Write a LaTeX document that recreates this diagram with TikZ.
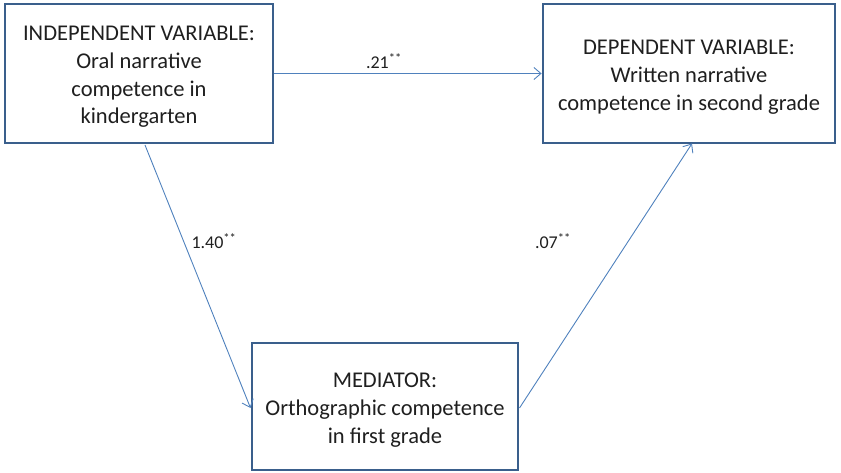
\documentclass[tikz,border=0pt]{standalone}
\usepackage{fontspec}
\setmainfont{Carlito}
\usetikzlibrary{arrows.meta}
\definecolor{boxblue}{HTML}{3A5F8C}
\definecolor{arrblue}{HTML}{4F81BD}
\newcommand{\liftdown}{\rule{0pt}{21.5pt}}
\begin{document}
\begin{tikzpicture}[x=1pt,y=-1pt,
  varbox/.style={draw=boxblue,line width=2.8pt,fill=white,align=center,inner sep=0pt,
    font=\fontsize{22.5}{27.7}\selectfont,text=black!88},
  link/.style={draw=arrblue,line width=0.9pt,-{Straight Barb[length=7pt,width=12pt]}},
  coef/.style={font=\fontsize{18}{20}\selectfont,text=black!88}]
\useasboundingbox (0,0) rectangle (841,473);
\node[varbox,minimum width=268pt,minimum height=139pt] (iv) at (139,73.5)
  {\liftdown INDEPENDENT VARIABLE:\\Oral narrative\\competence in\\kindergarten};
\node[varbox,minimum width=292pt,minimum height=139pt] (dv) at (689,73.5)
  {\liftdown DEPENDENT VARIABLE:\\Written narrative\\competence in second grade};
\node[varbox,minimum width=266pt,minimum height=127pt] (med) at (385,406.5)
  {\liftdown MEDIATOR:\\Orthographic competence\\in first grade};
\coordinate (ivb) at (145,145);
\coordinate (medl) at (250.5,408);
\coordinate (medr) at (519.5,408);
\coordinate (dvb) at (692,143.5);
\draw[link] (iv.east) -- (dv.west);
\node[coef] (c0) at (384,61) {.21\textsuperscript{**}};
\draw[link] (ivb) -- (medl);
\draw[link] (medr) -- (dvb);
\node[coef] (c1) at (214,241) {1.40\textsuperscript{**}};
\node[coef] (c2) at (553,241) {.07\textsuperscript{**}};
\end{tikzpicture}
\end{document}
